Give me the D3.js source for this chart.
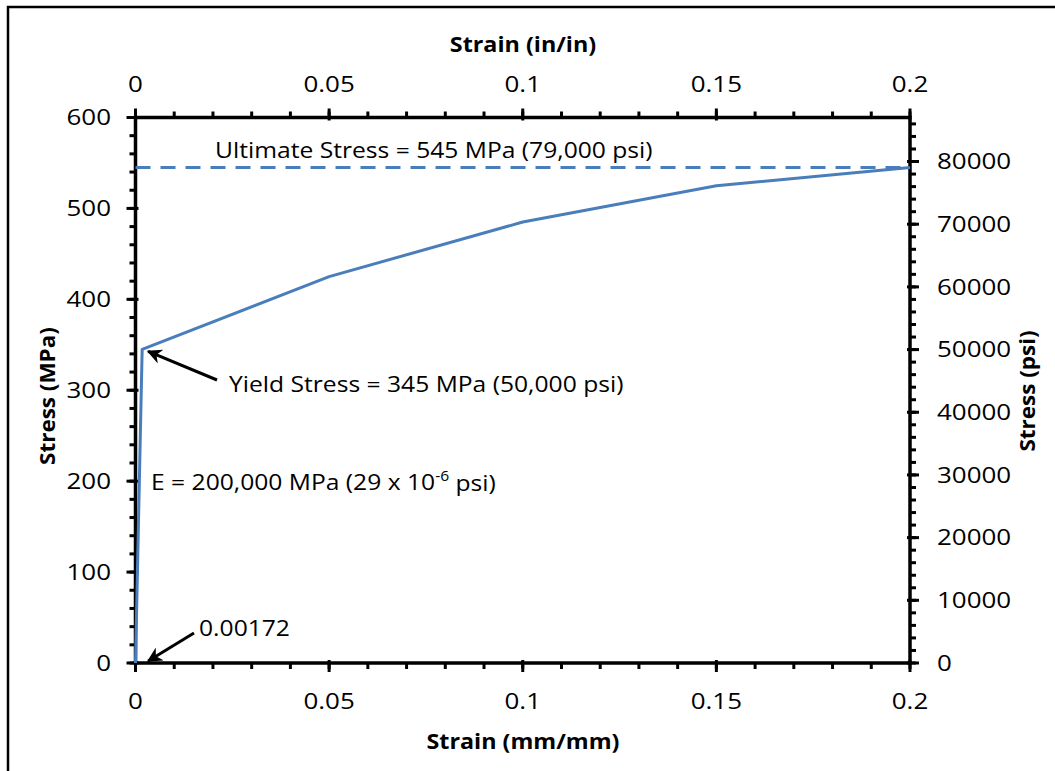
<!DOCTYPE html>
<html><head><meta charset="utf-8">
<script src="https://cdn.jsdelivr.net/npm/d3@7"></script>
<style>body{margin:0;background:#fff}svg{display:block}text{font-family:"Open Sans",sans-serif;fill:#000}</style>
</head><body><svg id="c" width="1055" height="771"></svg>
<script>
const strain = [0, 0.00172, 0.05, 0.1, 0.15, 0.2];
const stressMPa = [0, 345, 425, 485, 525, 545];
const ultimateMPa = 545;
const xTicks = [0, 0.05, 0.1, 0.15, 0.2];
const yTicksMPa = [0, 100, 200, 300, 400, 500, 600];
const yTicksPsi = [0, 10000, 20000, 30000, 40000, 50000, 60000, 70000, 80000];
const psiPerMPa = 145.0377;

const svg = d3.select("#c");
const L = 135.5, R = 910, T = 117.5, B = 663;
const x = d3.scaleLinear().domain([0, 0.2]).range([L, R]);
const y = d3.scaleLinear().domain([0, 600]).range([B, T]);
const yp = d3.scaleLinear().domain([0, 600 * psiPerMPa]).range([B, T]);

// outer frame
svg.append("rect").attr("x", 8).attr("y", 7).attr("width", 1060).attr("height", 780)
  .attr("fill", "none").attr("stroke", "#000").attr("stroke-width", 2.5);

function fmt(d){ return d === 0 ? "0" : String(d); }
// text helper: position, anchor, horizontal stretch, rotation
function txt(parent, px, py, s, opts = {}) {
  const fs = opts.fs || 22, sx = opts.sx || 1.12, rot = opts.rot || 0;
  return parent.append("text")
    .attr("transform", `translate(${px},${py}) rotate(${rot}) scale(${sx},1)`)
    .attr("font-size", fs).attr("font-weight", opts.bold ? "bold" : null)
    .attr("text-anchor", opts.anchor || "start").attr("dy", "0.35em").text(s);
}

// minor ticks
const g = svg.append("g").attr("stroke", "#000").attr("stroke-width", 3);
d3.range(0, 0.2001, 0.01).forEach(v => {
  g.append("line").attr("x1", x(v)).attr("x2", x(v)).attr("y1", T).attr("y2", T - 6);
  g.append("line").attr("x1", x(v)).attr("x2", x(v)).attr("y1", B).attr("y2", B + 6);
});
d3.range(0, 601, 20).forEach(v => {
  g.append("line").attr("y1", y(v)).attr("y2", y(v)).attr("x1", L).attr("x2", L - 6);
});
d3.range(0, 600 * psiPerMPa, 2000).forEach(v => {
  g.append("line").attr("y1", yp(v)).attr("y2", yp(v)).attr("x1", R).attr("x2", R + 6);
});
// major ticks (cross)
xTicks.forEach(v => {
  g.append("line").attr("x1", x(v)).attr("x2", x(v)).attr("y1", T + 3).attr("y2", T - 9);
  g.append("line").attr("x1", x(v)).attr("x2", x(v)).attr("y1", B - 3).attr("y2", B + 9);
});
yTicksMPa.forEach(v => {
  g.append("line").attr("y1", y(v)).attr("y2", y(v)).attr("x1", L + 3).attr("x2", L - 9);
});
yTicksPsi.forEach(v => {
  g.append("line").attr("y1", yp(v)).attr("y2", yp(v)).attr("x1", R - 3).attr("x2", R + 9);
});

// axis lines
svg.append("rect").attr("x", L).attr("y", T).attr("width", R - L).attr("height", B - T)
  .attr("fill", "none").attr("stroke", "#000").attr("stroke-width", 3.5);

// tick labels
const lab = svg.append("g");
const tk = { fs: 22, sx: 1.18 };
xTicks.forEach(v => {
  txt(lab, x(v), 84, fmt(v), { ...tk, anchor: "middle" });
  txt(lab, x(v), 701, fmt(v), { ...tk, anchor: "middle" });
});
yTicksMPa.forEach(v => txt(lab, 111, y(v), String(v), { ...tk, anchor: "end" }));
yTicksPsi.forEach(v => txt(lab, 937, yp(v), String(v), { ...tk, anchor: "start" }));

// axis titles
const tt = svg.append("g");
txt(tt, 523, 45, "Strain (in/in)", { fs: 21, sx: 1.11, bold: true, anchor: "middle" });
txt(tt, 523, 742, "Strain (mm/mm)", { fs: 21, sx: 1.11, bold: true, anchor: "middle" });
txt(tt, 48, 396, "Stress (MPa)", { fs: 21, sx: 1.07, bold: true, anchor: "middle", rot: -90 });
txt(tt, 1028, 391, "Stress (psi)", { fs: 21, sx: 1.07, bold: true, anchor: "middle", rot: -90 });

// data
const line = d3.line().x((d, i) => x(strain[i])).y(d => y(d));
svg.append("path").datum(stressMPa).attr("d", line).attr("fill", "none")
  .attr("stroke", "#4a7ebb").attr("stroke-width", 3).attr("stroke-linejoin", "round");
svg.append("line").attr("x1", x(0)).attr("x2", x(0.2)).attr("y1", y(ultimateMPa)).attr("y2", y(ultimateMPa))
  .attr("stroke", "#4a7ebb").attr("stroke-width", 3.2).attr("stroke-dasharray", "15 10");

// arrows
const defs = svg.append("defs");
defs.append("marker").attr("id", "ah").attr("viewBox", "0 0 10 10").attr("refX", 9).attr("refY", 5)
  .attr("markerWidth", 5).attr("markerHeight", 5).attr("orient", "auto").attr("markerUnits", "strokeWidth")
  .append("path").attr("d", "M0,0 L10,5 L0,10 L3,5 Z").attr("fill", "#000");
svg.append("line").attr("x1", 217).attr("y1", 380).attr("x2", x(0.00172) + 6).attr("y2", y(345) + 2)
  .attr("stroke", "#000").attr("stroke-width", 3).attr("marker-end", "url(#ah)");
svg.append("line").attr("x1", 194).attr("y1", 633).attr("x2", x(0.00172) + 6).attr("y2", y(0) - 2)
  .attr("stroke", "#000").attr("stroke-width", 3).attr("marker-end", "url(#ah)");

// annotations
const an = svg.append("g");
const at = { fs: 22, sx: 1.12 };
txt(an, 215, 150, "Ultimate Stress = 545 MPa (79,000 psi)", at);
txt(an, 229, 384, "Yield Stress = 345 MPa (50,000 psi)", at);
const e = txt(an, 151, 482, "", at);
e.append("tspan").text("E = 200,000 MPa (29 x 10");
e.append("tspan").attr("font-size", 14).attr("dy", "-0.6em").text("-6");
e.append("tspan").attr("dy", "0.45em").text(" psi)");
txt(an, 199, 628, "0.00172", at);
</script></body></html>
